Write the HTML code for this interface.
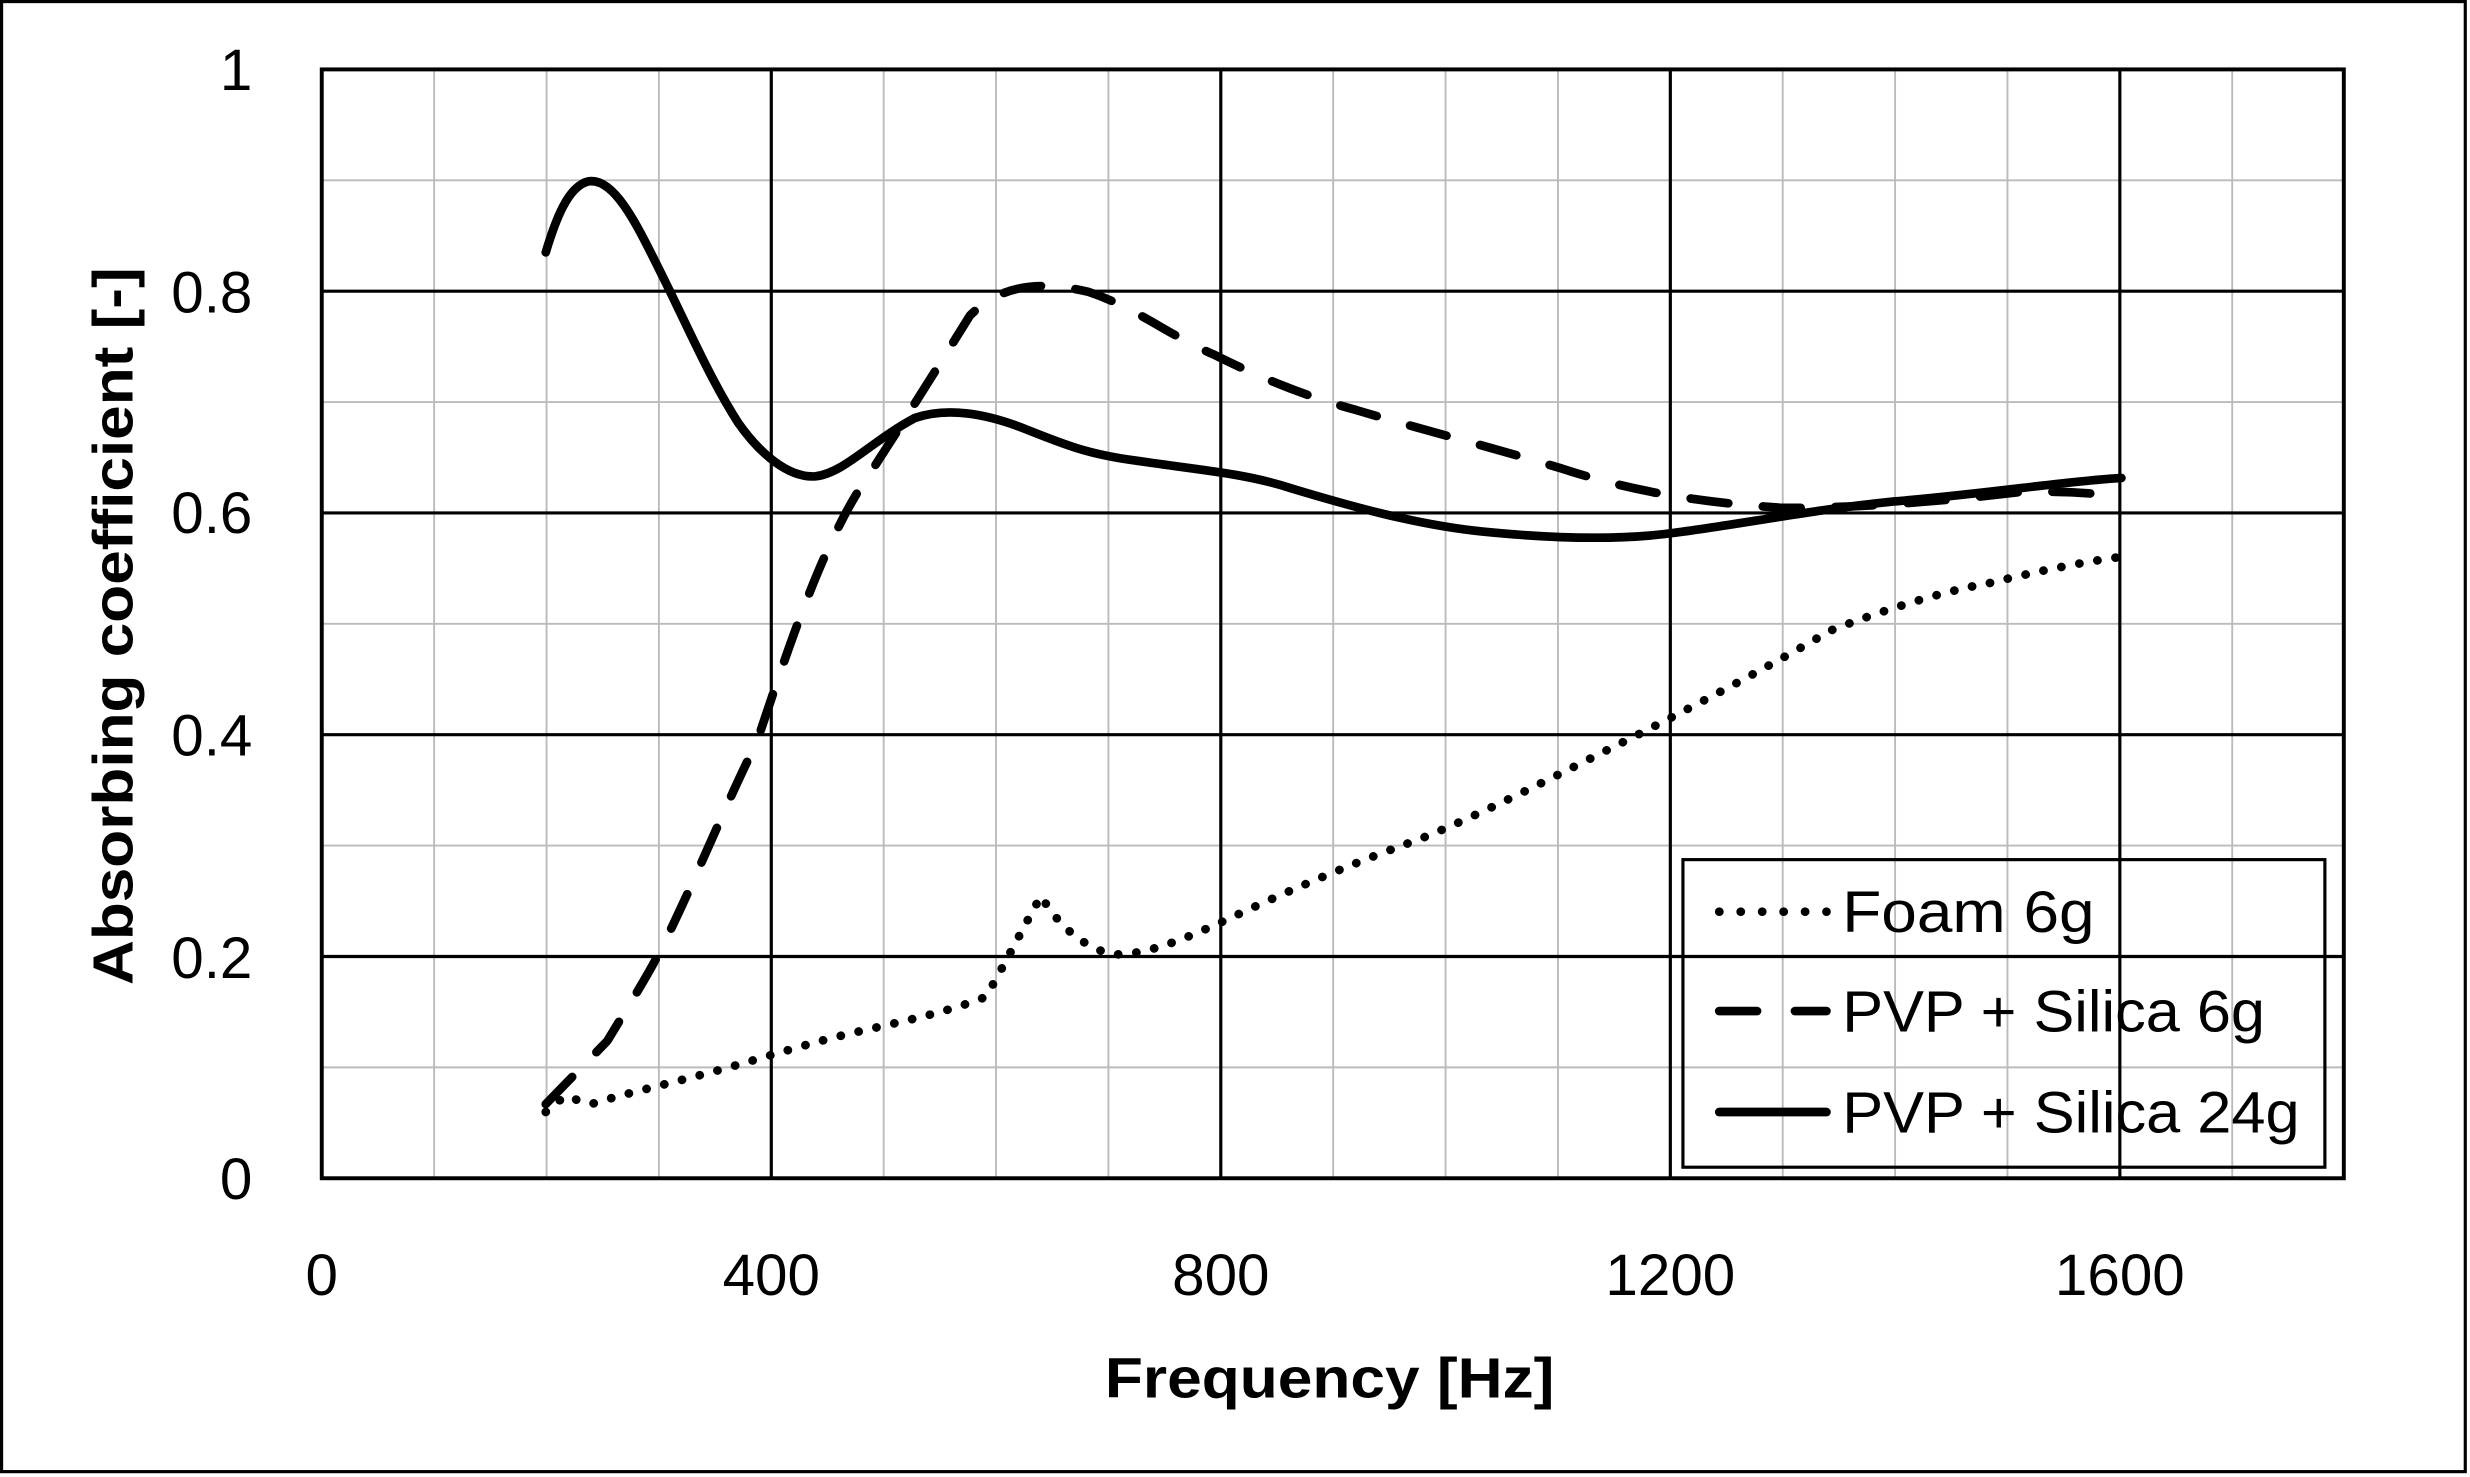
<!DOCTYPE html>
<html><head><meta charset="utf-8"><style>
html,body{margin:0;padding:0;background:#fff;}
svg{display:block;}
text{font-family:"Liberation Sans",sans-serif;fill:#000;}
</style></head><body>
<svg width="2470" height="1477" viewBox="0 0 1566 936.4" preserveAspectRatio="none" xmlns="http://www.w3.org/2000/svg">
<rect x="1" y="1" width="1562" height="932" fill="#fff" stroke="#000" stroke-width="2"/>
<g stroke="#bbb" stroke-width="1.2">
<line x1="275.25" y1="44" x2="275.25" y2="747"/><line x1="346.5" y1="44" x2="346.5" y2="747"/><line x1="417.75" y1="44" x2="417.75" y2="747"/>
<line x1="560.25" y1="44" x2="560.25" y2="747"/><line x1="631.5" y1="44" x2="631.5" y2="747"/><line x1="702.75" y1="44" x2="702.75" y2="747"/>
<line x1="845.25" y1="44" x2="845.25" y2="747"/><line x1="916.5" y1="44" x2="916.5" y2="747"/><line x1="987.75" y1="44" x2="987.75" y2="747"/>
<line x1="1130.25" y1="44" x2="1130.25" y2="747"/><line x1="1201.5" y1="44" x2="1201.5" y2="747"/><line x1="1272.75" y1="44" x2="1272.75" y2="747"/>
<line x1="1415.25" y1="44" x2="1415.25" y2="747"/>
<line x1="204" y1="114.3" x2="1486" y2="114.3"/><line x1="204" y1="254.9" x2="1486" y2="254.9"/><line x1="204" y1="395.5" x2="1486" y2="395.5"/><line x1="204" y1="536.1" x2="1486" y2="536.1"/><line x1="204" y1="676.7" x2="1486" y2="676.7"/>
</g>
<g stroke="#000" stroke-width="2">
<line x1="489" y1="44" x2="489" y2="747"/><line x1="774" y1="44" x2="774" y2="747"/><line x1="1059" y1="44" x2="1059" y2="747"/><line x1="1344" y1="44" x2="1344" y2="747"/>
<line x1="204" y1="184.6" x2="1486" y2="184.6"/><line x1="204" y1="325.2" x2="1486" y2="325.2"/><line x1="204" y1="465.8" x2="1486" y2="465.8"/><line x1="204" y1="606.4" x2="1486" y2="606.4"/>
<rect x="204" y="44" width="1282" height="703" fill="none" stroke-width="2.5"/>
</g>
<g font-size="37" text-anchor="end">
<text x="160" y="57">1</text><text x="160" y="198">0.8</text><text x="160" y="338">0.6</text><text x="160" y="479">0.4</text><text x="160" y="620">0.2</text><text x="160" y="760">0</text>
</g>
<g font-size="37" text-anchor="middle">
<text x="204" y="821">0</text><text x="489" y="821">400</text><text x="774" y="821">800</text><text x="1059" y="821">1200</text><text x="1344" y="821">1600</text>
</g>
<text x="843" y="886" font-size="36" font-weight="bold" text-anchor="middle" textLength="285" lengthAdjust="spacingAndGlyphs">Frequency [Hz]</text>
<text transform="translate(84,397) rotate(-90)" font-size="36" font-weight="bold" text-anchor="middle" textLength="455" lengthAdjust="spacingAndGlyphs">Absorbing coefficient [-]</text>
<g fill="none" stroke="#000" stroke-linecap="round" stroke-linejoin="round">
<path stroke-width="5.5" d="M346,160 C352,140 360,118 373,115 C390,112 405,145 420,175 C435,205 450,240 468,268 C482,288 500,303 517,302 C535,300 552,280 580,265 C600,258 625,262 650,272 C675,282 690,288 720,292 C760,298 790,300 820,310 C860,322 900,333 940,337 C990,342 1030,342 1060,338 C1100,333 1150,323 1200,318 C1260,313 1310,305 1345,303"/>
<path stroke-width="5.5" stroke-dasharray="24,22" d="M346,700 L385,660 C400,635 410,620 420,600 C440,560 460,510 480,470 C500,410 520,350 545,310 C565,280 590,240 615,200 C635,180 660,178 690,185 C720,195 740,212 770,225 C800,240 830,252 860,260 C900,272 940,282 990,297 C1030,310 1070,318 1130,322 C1180,322 1230,318 1280,312 C1310,311 1330,313 1345,315"/>
<path stroke-width="5.5" stroke-dasharray="0.1,11.5" d="M346,705 L358,695 L375,700 C390,695 420,688 450,680 C480,672 510,662 540,655 C570,648 600,642 625,632 C635,615 645,595 660,568 C670,585 685,600 705,605 C725,606 750,596 780,582 C810,568 850,550 900,532 C940,516 990,490 1030,470 C1070,450 1130,418 1160,400 C1185,390 1230,375 1260,370 C1300,360 1330,355 1345,353"/>
</g>
<rect x="1067" y="545" width="407" height="195" fill="none" stroke="#000" stroke-width="2"/>
<g fill="none" stroke="#000" stroke-linecap="round">
<line x1="1090" y1="578" x2="1158" y2="578" stroke-width="5.5" stroke-dasharray="0.1,13.5"/>
<line x1="1090" y1="641" x2="1158" y2="641" stroke-width="5.5" stroke-dasharray="24,24"/>
<line x1="1090" y1="705" x2="1158" y2="705" stroke-width="5.5"/>
</g>
<g font-size="37">
<text x="1168" y="591" textLength="160" lengthAdjust="spacingAndGlyphs">Foam 6g</text>
<text x="1168" y="654" textLength="268" lengthAdjust="spacingAndGlyphs">PVP + Silica 6g</text>
<text x="1168" y="718" textLength="290" lengthAdjust="spacingAndGlyphs">PVP + Silica 24g</text>
</g>
</svg>
</body></html>
